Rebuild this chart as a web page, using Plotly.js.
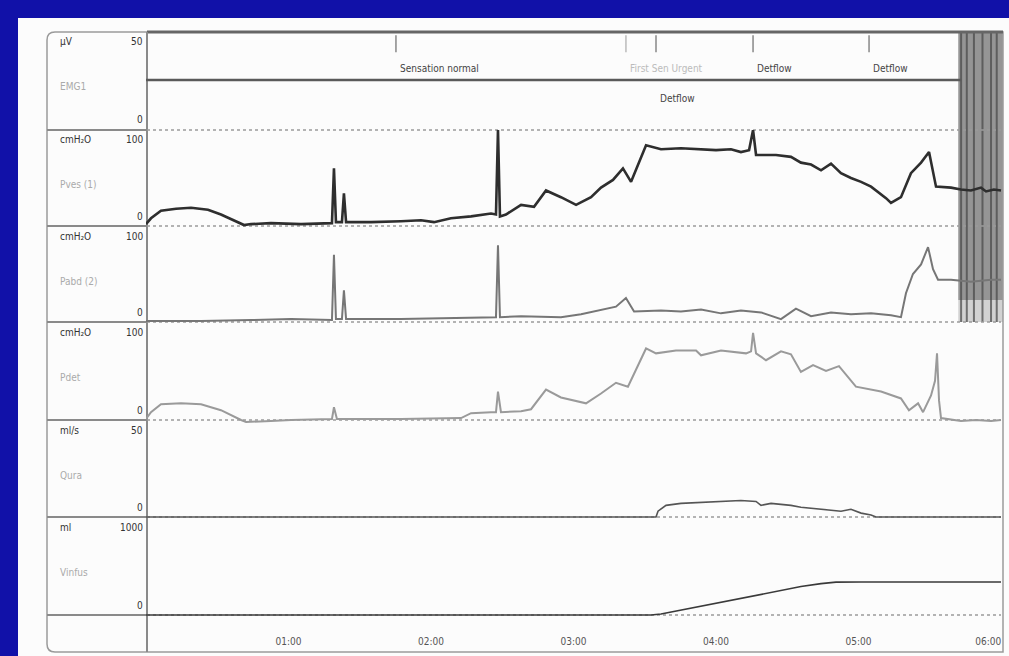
<!DOCTYPE html>
<html><head><meta charset="utf-8">
<script src="https://cdn.plot.ly/plotly-3.0.1.min.js"></script>
<style>html,body{margin:0;padding:0;background:#1111a8;overflow:hidden}#chart{width:1009px;height:656px}</style>
</head><body><div id="chart"></div>
<script>
// ---- data (time in minutes) ----
const timeTickVals = [1, 2, 3, 4, 5, 6];
const timeTickText = ["01:00", "02:00", "03:00", "04:00", "05:00", "06:00\u00A0\u00A0\u00A0\u00A0\u00A0\u00A0\u00A0\u00A0\u00A0"];

const channelNames = ["EMG1", "Pves (1)", "Pabd (2)", "Pdet", "Qura", "Vinfus"];
const channelUnits = ["µV", "cmH₂O", "cmH₂O", "cmH₂O", "ml/s", "ml"];
const channelMax = [50, 100, 100, 100, 50, 1000];
const channelMaxText = ["50", "100", "100", "100", "50", "1000"];

const emgTime = [0, 5.72];
const emgValues = [25.5, 25.5];

const pvesTime = [0, 0.035, 0.105, 0.211, 0.316, 0.435, 0.526, 0.632, 0.688, 0.737, 0.877, 1.088, 1.228, 1.305, 1.319, 1.333, 1.375, 1.389, 1.404, 1.579, 1.789, 1.930, 2.021, 2.140, 2.281, 2.421, 2.456, 2.470, 2.484, 2.526, 2.632, 2.723, 2.807, 2.912, 3.018, 3.123, 3.193, 3.277, 3.347, 3.404, 3.509, 3.614, 3.754, 3.895, 4.000, 4.105, 4.175, 4.232, 4.260, 4.281, 4.421, 4.526, 4.596, 4.667, 4.737, 4.807, 4.877, 4.947, 5.018, 5.088, 5.193, 5.228, 5.298, 5.368, 5.439, 5.495, 5.544, 5.649, 5.719, 5.789, 5.860, 5.895, 5.950, 6.000];
const pvesValues = [2, 8, 16, 18, 19, 17, 12, 5, 1, 2, 3, 2, 3, 3, 60, 4, 4, 34, 4, 4, 5, 6, 4, 8, 10, 13, 12, 100, 10, 12, 22, 20, 37, 30, 22, 30, 40, 48, 60, 46, 84, 80, 81, 80, 79, 80, 77, 79, 100, 74, 74, 72, 66, 64, 58, 65, 55, 50, 46, 41, 29, 24, 30, 55, 66, 77, 41, 40, 38, 37, 40, 36, 38, 37];

const pabdTime = [0, 0.386, 0.737, 1.018, 1.305, 1.319, 1.333, 1.375, 1.389, 1.404, 1.789, 2.140, 2.456, 2.470, 2.484, 2.632, 2.912, 3.053, 3.193, 3.298, 3.368, 3.425, 3.614, 3.754, 3.895, 4.035, 4.175, 4.316, 4.456, 4.561, 4.667, 4.807, 4.947, 5.088, 5.228, 5.298, 5.333, 5.382, 5.439, 5.488, 5.523, 5.558, 5.649, 5.789, 5.930, 6.000];
const pabdValues = [1, 1, 2, 3, 2, 70, 3, 3, 33, 3, 3, 4, 5, 80, 5, 6, 5, 8, 13, 16, 25, 11, 12, 11, 13, 9, 12, 10, 3, 14, 6, 10, 8, 9, 7, 5, 30, 50, 60, 78, 55, 44, 44, 42, 44, 44];

const pdetTime = [0, 0.035, 0.105, 0.246, 0.386, 0.526, 0.667, 0.702, 0.877, 1.018, 1.305, 1.319, 1.340, 1.789, 2.211, 2.281, 2.421, 2.456, 2.470, 2.491, 2.632, 2.702, 2.807, 2.912, 3.088, 3.193, 3.298, 3.382, 3.509, 3.579, 3.719, 3.860, 3.895, 4.035, 4.211, 4.246, 4.260, 4.281, 4.351, 4.456, 4.526, 4.596, 4.681, 4.772, 4.863, 4.982, 5.158, 5.298, 5.354, 5.418, 5.453, 5.509, 5.537, 5.551, 5.565, 5.579, 5.719, 5.825, 5.930, 6.000];
const pdetValues = [1, 8, 16, 17, 16, 10, 0, -2, -1, 0, 1, 13, 1, 1, 2, 7, 8, 8, 29, 8, 9, 11, 31, 23, 17, 27, 38, 34, 73, 68, 71, 71, 66, 71, 68, 70, 89, 68, 61, 70, 67, 49, 56, 50, 55, 34, 29, 22, 10, 17, 8, 25, 40, 68, 20, 2, -1, 0, -1, 0];

const quraTime = [0, 3.579, 3.593, 3.649, 3.754, 3.895, 4.035, 4.175, 4.281, 4.316, 4.386, 4.526, 4.596, 4.737, 4.877, 4.947, 5.018, 5.088, 5.123, 6.000];
const quraValues = [0, 0, 3, 6, 7, 7.5, 8, 8.5, 8, 6, 7, 6, 5, 4, 3, 4, 2, 1, 0, 0];

const vinfusTime = [0, 3.544, 3.614, 3.754, 3.895, 4.035, 4.175, 4.316, 4.456, 4.596, 4.737, 4.842, 5.018, 6.000];
const vinfusValues = [0, 0, 10, 50, 90, 130, 170, 215, 255, 290, 320, 335, 337, 337];

const eventTimes = [1.754, 3.368, 3.579, 4.260, 5.074];
const eventLabels = ["Sensation normal", "First Sen Urgent", "Detflow", "Detflow", "Detflow"];
const eventLevels = [31.5, 31.5, 16.3, 31.5, 31.5];

const artifactBand = [5.70, 6.02];
const artifactLines = [5.72, 5.76, 5.81, 5.87, 5.93, 5.97];

// ---- layout helpers (pixel geometry) ----
const W = 1009, H = 656;
const px = x => x / W;
const py = y => 1 - y / H;
const rowTop = [32, 130, 226, 322, 420, 517];
const rowBottom = [130, 226, 322, 420, 517, 615];
const FONT = "Liberation Sans Narrow, DejaVu Sans Condensed, Arial Narrow, sans-serif";

const series = [
  {t: emgTime, v: emgValues, color: "#5a5a5a", w: 2.5},
  {t: pvesTime, v: pvesValues, color: "#2e2e2e", w: 2.6},
  {t: pabdTime, v: pabdValues, color: "#767676", w: 2},
  {t: pdetTime, v: pdetValues, color: "#9a9a9a", w: 2},
  {t: quraTime, v: quraValues, color: "#555555", w: 1.6},
  {t: vinfusTime, v: vinfusValues, color: "#3a3a3a", w: 1.6}
];

const traces = series.map((s, i) => ({
  type: "scatter", mode: "lines", x: s.t, y: s.v,
  xaxis: "x", yaxis: i === 0 ? "y" : "y" + (i + 1),
  line: {color: s.color, width: s.w, shape: "linear"},
  hoverinfo: "skip", showlegend: false
}));

traces.push({
  type: "scatter", mode: "markers", x: eventTimes,
  y: eventTimes.map(() => 44), xaxis: "x", yaxis: "y",
  marker: {symbol: "line-ns-open", size: 12, color: eventLabels.map((l, i) => i === 1 ? "#bbbbbb" : "#888888"), line: {width: 1.5, color: eventLabels.map((l, i) => i === 1 ? "#bbbbbb" : "#888888")}},
  hoverinfo: "skip", showlegend: false
});

const layout = {
  width: W, height: H,
  margin: {l: 0, r: 0, t: 0, b: 0},
  paper_bgcolor: "#1111a8",
  plot_bgcolor: "rgba(0,0,0,0)",
  font: {family: FONT, color: "#444"},
  showlegend: false,
  xaxis: {
    domain: [px(146), px(1003)], range: [0, 6.014], anchor: "y6",
    showgrid: false, zeroline: false, showline: false, ticks: "",
    tickvals: timeTickVals, ticktext: timeTickText,
    tickfont: {size: 10, color: "#555", family: FONT},
    ticklabelstandoff: 16, ticklabeloverflow: "allow", fixedrange: true
  },
  shapes: [], annotations: []
};

for (let i = 0; i < 6; i++) {
  const key = i === 0 ? "yaxis" : "yaxis" + (i + 1);
  const h = rowBottom[i] - rowTop[i];
  layout[key] = {
    domain: [py(rowBottom[i] + 3), py(rowTop[i])],
    range: [-channelMax[i] * 3 / h, channelMax[i]],
    anchor: "x", showgrid: false, zeroline: false, showline: false,
    showticklabels: false, ticks: "", fixedrange: true
  };
}

const S = layout.shapes;
// white sheet
S.push({type: "rect", xref: "paper", yref: "paper", x0: px(18), x1: 1, y0: 0, y1: py(18), fillcolor: "#fcfcfc", line: {width: 0}, layer: "below"});
// artifact band
S.push({type: "rect", xref: "x", yref: "paper", x0: artifactBand[0], x1: artifactBand[1], y0: py(300), y1: py(32), fillcolor: "rgba(115,115,115,0.75)", line: {width: 0}, layer: "below"});
S.push({type: "rect", xref: "x", yref: "paper", x0: artifactBand[0], x1: artifactBand[1], y0: py(322), y1: py(300), fillcolor: "rgba(160,160,160,0.45)", line: {width: 0}, layer: "below"});
artifactLines.forEach(t => S.push({type: "line", xref: "x", yref: "paper", x0: t, x1: t, y0: py(322), y1: py(32), line: {color: "rgba(70,70,70,0.7)", width: 2}, layer: "below"}));
// outer frame
S.push({type: "path", xref: "paper", yref: "paper",
  path: `M ${px(47)} ${py(40)} L ${px(47)} ${py(644)} Q ${px(47)} ${py(652)} ${px(55)} ${py(652)} L ${px(1003)} ${py(652)} L ${px(1003)} ${py(32)} L ${px(55)} ${py(32)} Q ${px(47)} ${py(32)} ${px(47)} ${py(40)} Z`,
  line: {color: "#9a9a9a", width: 1.5}, layer: "below"});
// top thick line
S.push({type: "line", xref: "paper", yref: "paper", x0: px(147), x1: px(1003), y0: py(32), y1: py(32), line: {color: "#666", width: 3}, layer: "below"});
// label column divider
S.push({type: "line", xref: "paper", yref: "paper", x0: px(147), x1: px(147), y0: py(652), y1: py(32), line: {color: "#8a8a8a", width: 2}, layer: "below"});
for (let i = 0; i < 6; i++) {
  S.push({type: "line", xref: "paper", yref: "paper", x0: px(47), x1: px(147), y0: py(rowBottom[i]), y1: py(rowBottom[i]), line: {color: "#8a8a8a", width: 2}, layer: "below"});
  S.push({type: "line", xref: "paper", yref: "paper", x0: px(147), x1: px(1001), y0: py(rowBottom[i]), y1: py(rowBottom[i]), line: {color: "#9a9a9a", width: 1.5, dash: "dot"}, layer: "below"});
}

const A = layout.annotations;
for (let i = 0; i < 6; i++) {
  const top = rowTop[i];
  A.push({xref: "paper", yref: "paper", x: px(58), y: py(top + 10), text: channelUnits[i], showarrow: false, xanchor: "left", yanchor: "middle", font: {size: 10, color: "#333", family: FONT}});
  A.push({xref: "paper", yref: "paper", x: px(58), y: py(top + 55), text: channelNames[i], showarrow: false, xanchor: "left", yanchor: "middle", font: {size: 10, color: "#aaa", family: FONT}});
  A.push({xref: "paper", yref: "paper", x: px(145), y: py(top + 10), text: channelMaxText[i], showarrow: false, xanchor: "right", yanchor: "middle", font: {size: 10, color: "#333", family: FONT}});
  A.push({xref: "paper", yref: "paper", x: px(145), y: py(rowBottom[i] - 10), text: "0", showarrow: false, xanchor: "right", yanchor: "middle", font: {size: 10, color: "#333", family: FONT}});
}
eventTimes.forEach((t, i) => {
  A.push({xref: "x", yref: "y", x: t, y: eventLevels[i], text: eventLabels[i], showarrow: false, xanchor: "left", yanchor: "middle", xshift: 2,
    font: {size: 10, color: i === 1 ? "#bbb" : "#444", family: FONT}});
});

Plotly.newPlot("chart", traces, layout, {staticPlot: true, displayModeBar: false});
</script></body></html>
